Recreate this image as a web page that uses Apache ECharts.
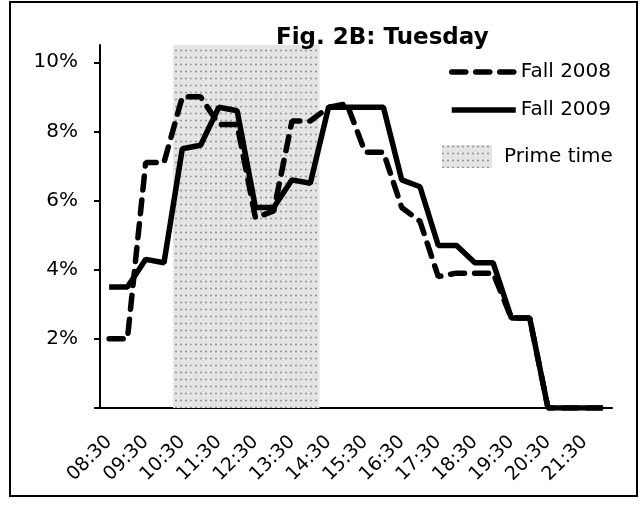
<!DOCTYPE html>
<html>
<head>
<meta charset="utf-8">
<script src="https://cdn.jsdelivr.net/npm/echarts@6/dist/echarts.min.js"></script>
<style>
  html, body { margin: 0; padding: 0; background: #fff; }
  #chart { width: 640px; height: 512px; }
</style>
</head>
<body>
<div id="chart"></div>
<script>
// half-hour slots, one category each
const times = ['08:30', '09:00', '09:30', '10:00', '10:30', '11:00', '11:30', '12:00',
  '12:30', '13:00', '13:30', '14:00', '14:30', '15:00', '15:30', '16:00',
  '16:30', '17:00', '17:30', '18:00', '18:30', '19:00', '19:30', '20:00',
  '20:30', '21:00', '21:30', '22:00'];

// share of viewing, in percent
const fall2008 = [2.0, 2.0, 7.1, 7.1, 9.0, 9.0, 8.2, 8.2, 5.5, 5.7, 8.3, 8.3, 8.7, 8.8,
  7.4, 7.4, 5.8, 5.4, 3.8, 3.9, 3.9, 3.9, 2.6, 2.6, 0, 0, 0, 0];
const fall2009 = [3.5, 3.5, 4.3, 4.2, 7.5, 7.6, 8.7, 8.6, 5.8, 5.8, 6.6, 6.5, 8.7, 8.7,
  8.7, 8.7, 6.6, 6.4, 4.7, 4.7, 4.2, 4.2, 2.6, 2.6, 0, 0, 0, 0];

// prime time band fills the plot from 10:30 through 14:00
const primeTime = [null, null, null, null, 10.5, 10.5, 10.5, 10.5, 10.5, 10.5, 10.5, 10.5,
  null, null, null, null, null, null, null, null, null, null, null, null, null, null, null, null];

const yTicks = [0, 2, 4, 6, 8, 10];
const yLabels = [2, 4, 6, 8, 10];

const font = 'DejaVu Sans';
const chart = echarts.init(document.getElementById('chart'));

const option = {
  backgroundColor: '#fff',
  animation: false,
  title: {
    text: 'Fig. 2B: Tuesday',
    left: 271,
    top: 22,
    textStyle: { fontFamily: font, fontSize: 23, fontWeight: 'bold', color: '#000' }
  },
  legend: [
    {
      data: ['Fall 2008', 'Fall 2009'],
      orient: 'vertical',
      left: 444,
      top: 56,
      itemWidth: 64,
      itemHeight: 14,
      itemGap: 16,
      itemStyle: { opacity: 0 },
      lineStyle: { width: 5.5 },
      textStyle: { fontFamily: font, fontSize: 20, color: '#000', lineHeight: 22 }
    },
    {
      data: ['Prime time'],
      icon: 'rect',
      left: 437,
      top: 140,
      itemWidth: 50,
      itemHeight: 23,
      textStyle: { fontFamily: font, fontSize: 20, color: '#000', padding: [0, 0, 0, 7] }
    }
  ],
  grid: { left: 100, right: 28, top: 45, bottom: 104 },
  xAxis: {
    type: 'category',
    data: times,
    boundaryGap: true,
    axisLine: { lineStyle: { color: '#000', width: 2 } },
    axisTick: { interval: 0, length: 6, lineStyle: { color: '#000', width: 2 } },
    axisLabel: {
      interval: 1,
      rotate: 45,
      margin: 31,
      verticalAlign: 'middle',
      fontFamily: font,
      fontSize: 19,
      color: '#000'
    },
    splitLine: { show: false }
  },
  yAxis: {
    type: 'value',
    min: 0,
    max: 10.5,
    interval: 2,
    axisLine: { show: true, lineStyle: { color: '#000', width: 2 } },
    axisTick: { show: true, length: 6, customValues: yTicks, lineStyle: { color: '#000', width: 2 } },
    axisLabel: {
      customValues: yLabels,
      margin: 22,
      fontFamily: font,
      fontSize: 20,
      color: '#000',
      formatter: v => v + '%'
    },
    splitLine: { show: false }
  },
  series: [
    {
      name: 'Prime time',
      type: 'bar',
      data: primeTime,
      barCategoryGap: '0%',
      z: 1,
      itemStyle: {
        color: '#e4e4e4',
        decal: {
          symbol: 'rect',
          color: 'rgba(0,0,0,0.7)',
          symbolSize: 0.5,
          dashArrayX: [2, 3],
          dashArrayY: [3, 4],
          rotation: 0
        }
      }
    },
    {
      name: 'Fall 2008',
      type: 'line',
      data: fall2008,
      symbol: 'none',
      z: 3,
      lineStyle: { color: '#000', width: 5.5, type: [14, 10], cap: 'round' },
      itemStyle: { color: '#000' }
    },
    {
      name: 'Fall 2009',
      type: 'line',
      data: fall2009,
      symbol: 'none',
      z: 4,
      lineStyle: { color: '#000', width: 5.5, type: 'solid' },
      itemStyle: { color: '#000' }
    }
  ],
  graphic: [
    {
      type: 'rect',
      shape: { x: 10, y: 2, width: 627, height: 494 },
      style: { fill: null, stroke: '#000', lineWidth: 2 },
      silent: true
    }
  ]
};

chart.setOption(option);
</script>
</body>
</html>
